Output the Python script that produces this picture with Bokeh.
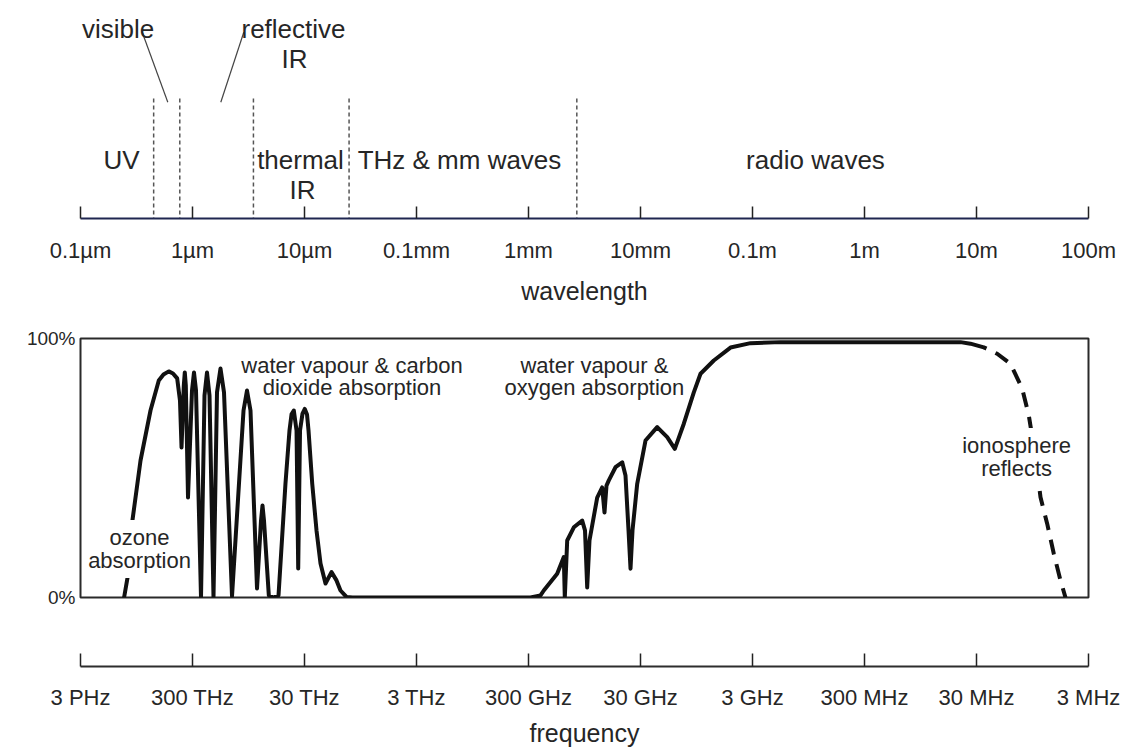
from bokeh.plotting import figure
from bokeh.models import Range1d, FixedTicker, CustomJSTickFormatter, PrintfTickFormatter, Label
from bokeh.layouts import column
from bokeh.embed import file_html
from bokeh.resources import INLINE
from bokeh.core.properties import value

# ---------------- data ----------------
wavelength_ticks_m = [1e-7, 1e-6, 1e-5, 1e-4, 1e-3, 1e-2, 1e-1, 1.0, 10.0, 100.0]
wavelength_labels = ["0.1µm", "1µm", "10µm", "0.1mm", "1mm", "10mm", "0.1m", "1m", "10m", "100m"]

frequency_ticks_hz = [3e15, 3e14, 3e13, 3e12, 3e11, 3e10, 3e9, 3e8, 3e7, 3e6]
frequency_labels = ["3 PHz", "300 THz", "30 THz", "3 THz", "300 GHz", "30 GHz",
                    "3 GHz", "300 MHz", "30 MHz", "3 MHz"]

# band boundaries (wavelength, m): UV|visible|reflective IR|thermal IR|THz & mm|radio
band_edges_m = [0.45e-6, 0.77e-6, 3.5e-6, 25e-6, 2.7e-3]

transmission_ticks = [0, 100]

# atmospheric transmission (solid part): wavelength in micrometres, transmission in %
trans_wavelength_um = [
    0.245, 0.263, 0.2895, 0.3435, 0.4217, 0.500, 0.5508, 0.6138, 0.6697, 0.7299,
    0.773, 0.798, 0.8363, 0.8536, 0.8714, 0.9118, 0.9898, 1.031, 1.0747, 1.191,
    1.2797, 1.347, 1.4187, 1.540, 1.6547, 1.778, 1.911, 2.253, 2.854, 3.066,
    3.295, 3.767, 4.090, 4.217, 4.349, 4.801, 5.285, 5.861, 6.761, 7.345,
    7.656, 8.029, 8.49, 8.787, 9.12, 9.597, 10.06, 10.53, 10.86, 11.72,
    12.80, 13.90, 15.40, 17.42, 19.31, 20.96, 23.71, 26.83, 1042, 1280,
    1369, 1803, 2066, 2109, 2216, 2539, 3016, 3195, 3342, 3504,
    4106, 4550, 4771, 4971, 5212, 5982, 6866, 7346, 7817, 8143,
    8485, 9344, 11081, 14094, 17317, 20249, 24362, 29920, 34340, 45128,
    63626, 95960, 177800, 7.197e6, 8.83e6, 1.161e7,
]
trans_percent = [
    0.0, 7.7, 29.1, 52.9, 72.2, 83.8, 86.1, 87.3, 86.5, 84.6,
    76.1, 57.9, 81.9, 86.9, 81.9, 38.6, 79.9, 86.9, 79.9, 0.0,
    78.0, 86.9, 78.0, 0.0, 79.2, 88.4, 79.2, 0.5, 72.2, 79.9,
    72.2, 3.5, 29.7, 35.5, 29.7, 0.8, 0.0, 0.8, 44.0, 64.5,
    70.7, 72.2, 64.5, 11.2, 64.5, 71.0, 72.8, 70.7, 64.5, 44.0,
    25.9, 13.1, 5.4, 9.8, 6.6, 2.7, 0.2, 0.0, 0.0, 0.8,
    2.7, 9.2, 15.6, 0.0, 22.0, 27.1, 29.7, 25.9, 3.9, 22.0,
    38.6, 42.5, 32.8, 43.2, 45.2, 50.3, 52.2, 47.1, 25.9, 11.1,
    25.9, 43.9, 60.6, 65.8, 61.9, 57.4, 67.1, 79.2, 86.4, 91.5,
    96.5, 98.2, 98.6, 98.6, 98.0, 96.6,
]

# ionosphere reflection (dashed part): wavelength in micrometres, transmission in %
iono_wavelength_um = [1.161e7, 1.53e7, 2.012e7, 2.559e7, 2.931e7, 3.364e7,
                      3.728e7, 4.276e7, 4.90e7, 5.623e7, 6.231e7]
iono_percent = [96.6, 94.1, 90.2, 80.6, 70.3, 54.2, 38.7, 28.5, 16.9, 6.6, 0.0]

# ---------------- styling / layout ----------------
FONT = "Liberation Sans"
TXT = "#262626"
W = 1125
LEFT = 80
FRAME_W = 1008
RIGHT = W - LEFT - FRAME_W

trans_wavelength_m = [v * 1e-6 for v in trans_wavelength_um]
iono_wavelength_m = [v * 1e-6 for v in iono_wavelength_um]

LABEL_CODE = """
let best = 0, err = Infinity;
for (let i = 0; i < tv.length; i++) {
  const e = Math.abs(Math.log10(tv[i]) - Math.log10(tick));
  if (e < err) { err = e; best = i; }
}
return tl[best];
"""


def make_fig(height, x_range, y_range, top, bottom, y_loc=None, x_loc="below"):
    p = figure(width=W, height=height, x_range=x_range, y_range=y_range,
               x_axis_type="log", y_axis_location=y_loc, x_axis_location=x_loc,
               toolbar_location=None, output_backend="svg",
               min_border_left=LEFT, min_border_right=RIGHT,
               min_border_top=top, min_border_bottom=bottom)
    p.grid.visible = False
    p.outline_line_color = None
    p.background_fill_color = "white"
    p.border_fill_color = "white"
    return p


def style_xaxis(ax, ticks, labels, axis_label, line_color, tick_len, standoff, label_standoff):
    ax.ticker = FixedTicker(ticks=ticks)
    ax.formatter = CustomJSTickFormatter(args=dict(tv=ticks, tl=labels), code=LABEL_CODE)
    ax.major_tick_in = tick_len
    ax.major_tick_out = 0
    ax.minor_tick_line_color = None
    ax.axis_line_width = 2
    ax.axis_line_color = line_color
    ax.major_tick_line_width = 1.5
    ax.major_tick_line_color = "#222222"
    ax.major_label_text_font = FONT
    ax.major_label_text_font_size = "22px"
    ax.major_label_text_color = TXT
    ax.major_label_standoff = standoff
    ax.axis_label = axis_label
    ax.axis_label_text_font = FONT
    ax.axis_label_text_font_size = "25px"
    ax.axis_label_text_font_style = "normal"
    ax.axis_label_text_color = TXT
    ax.axis_label_standoff = label_standoff


def add_label(p, x, y, text, size, background=False):
    kw = dict(x=x, y=y, text=text, text_font=FONT, text_font_size=size,
              text_align="center", text_baseline="alphabetic",
              text_color="white" if background else TXT)
    if background:
        kw.update(background_fill_color="white", background_fill_alpha=1.0, padding=5)
    p.add_layout(Label(**kw))


# ---- top: wavelength scale with bands ----
pa = make_fig(318, Range1d(1e-7, 100), Range1d(218, 8), top=8, bottom=100)
style_xaxis(pa.xaxis[0], wavelength_ticks_m, wavelength_labels, "wavelength",
            "#1f2650", 12, 19, 11)

pa.segment(x0=band_edges_m, y0=[98] * len(band_edges_m), x1=band_edges_m,
           y1=[218] * len(band_edges_m), line_color="#555555", line_width=1.5,
           line_dash="4 3")
# leader lines for "visible" and "reflective IR"
pa.segment(x0=[0.3556e-6, 2.87e-6], y0=[31.7, 31.7], x1=[0.602e-6, 1.789e-6],
           y1=[101.7, 101.7], line_color="#444444", line_width=1.2)

pa.text(x=[0.2323e-6, 0.2162e-6, 7.98e-6, 8.14e-6, 9.21e-6, 9.6e-6, 2.42e-4, 0.365],
        y=[159, 28, 28, 58, 159, 189, 159, 159],
        text=["UV", "visible", "reflective", "IR", "thermal", "IR",
              "THz & mm waves", "radio waves"],
        text_font=value(FONT), text_font_size="26px", text_align="center",
        text_baseline="alphabetic", text_color=TXT)

# ---- middle: transmission ----
pb = make_fig(319, Range1d(1e-7, 100), Range1d(0, 100), top=20, bottom=40,
              y_loc="left", x_loc=None)
pb.outline_line_color = "#2a2a2a"
pb.outline_line_width = 2
yax = pb.yaxis[0]
yax.ticker = FixedTicker(ticks=transmission_ticks)
yax.formatter = PrintfTickFormatter(format="%d%%")
yax.axis_line_color = None
yax.major_tick_line_color = None
yax.minor_tick_line_color = None
yax.major_tick_in = 0
yax.major_tick_out = 0
yax.major_label_standoff = 5
yax.major_label_text_font = FONT
yax.major_label_text_font_size = "19px"
yax.major_label_text_color = TXT

pb.line(x=trans_wavelength_m, y=trans_percent, line_color="#111111",
        line_width=4, line_join="round", line_cap="round")
pb.line(x=iono_wavelength_m, y=iono_percent, line_color="#111111",
        line_width=4, line_dash="15 10", line_dash_offset=12)

pb.text(x=[26.55e-6, 26.55e-6, 3.88e-3, 3.88e-3], y=[89.6, 80.9, 89.6, 81.1],
        text=["water vapour & carbon", "dioxide absorption",
              "water vapour &", "oxygen absorption"],
        text_font=value(FONT), text_font_size="22px", text_align="center",
        text_baseline="alphabetic", text_color=TXT)

masked_labels = [(0.3364e-6, 23.2, "ozone"), (0.3364e-6, 14.3, "absorption"),
                 (22.8, 58.7, "ionosphere"), (22.8, 49.8, "reflects")]
# white boxes first (they hide the curve behind the text), then the texts
for (lx, ly, lt) in masked_labels:
    add_label(pb, lx, ly, lt, "22px", background=True)
for (lx, ly, lt) in masked_labels:
    add_label(pb, lx, ly, lt, "22px")

# ---- bottom: frequency scale ----
pc = make_fig(113, Range1d(3e15, 3e6), Range1d(0, 1), top=0, bottom=84)
style_xaxis(pc.xaxis[0], frequency_ticks_hz, frequency_labels, "frequency",
            "#2d2d2d", 13, 18, 6)

layout = column(pa, pb, pc, spacing=0)
open("out.html", "w").write(file_html(layout, INLINE))
